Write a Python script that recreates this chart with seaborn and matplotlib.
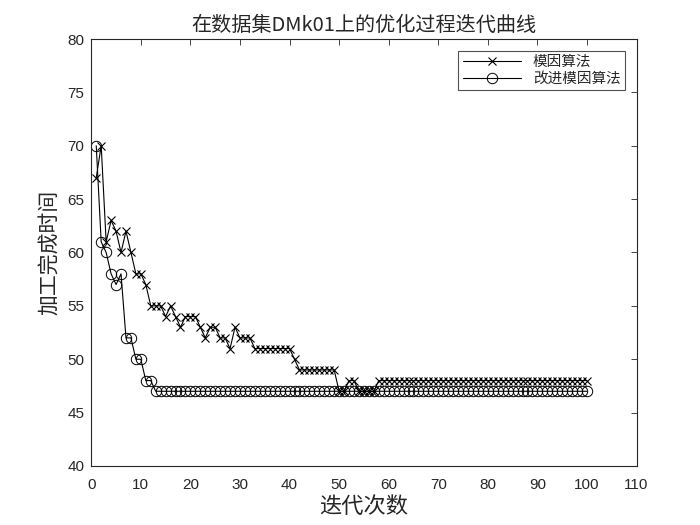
import matplotlib
matplotlib.use('Agg')
import matplotlib.pyplot as plt
import seaborn as sns
import numpy as np
import pandas as pd

# iteration index
iters = list(range(1, 101))

# memetic algorithm (x markers)
ma = [67, 70, 61, 63, 62, 60, 62, 60, 58, 58,
      57, 55, 55, 55, 54, 55, 54, 53, 54, 54,
      54, 53, 52, 53, 53, 52, 52, 51, 53, 52,
      52, 52, 51, 51, 51, 51, 51, 51, 51, 51,
      50, 49, 49, 49, 49, 49, 49, 49, 49, 47,
      47, 48, 48, 47, 47, 47, 47] + [48] * 43

# improved memetic algorithm (open circles)
ima = [70, 61, 60, 58, 57, 58, 52, 52, 50, 50,
       48, 48] + [47] * 88

labels = ['模因算法', '改进模因算法']

df = pd.DataFrame({'iter': iters, 'ma': ma, 'ima': ima})

sns.set_style('white')
plt.rcParams['font.family'] = ['Liberation Sans', 'Noto Sans CJK SC', 'DejaVu Sans']

fig = plt.figure(figsize=(7, 5.25), dpi=100)
ax = fig.add_axes([0.1304, 0.1124, 0.7789, 0.8133])

sns.lineplot(data=df, x='iter', y='ma', ax=ax, color='k', linewidth=0.8,
             marker='x', markersize=6, markeredgecolor='k', markeredgewidth=0.8,
             label=labels[0])
sns.lineplot(data=df, x='iter', y='ima', ax=ax, color='k', linewidth=0.8,
             marker='o', markersize=7.5, markerfacecolor='none',
             markeredgecolor='k', markeredgewidth=0.7, label=labels[1])

ax.set_xlim(0, 110)
ax.set_ylim(40, 80)
ax.set_xticks(np.arange(0, 111, 10))
ax.set_yticks(np.arange(40, 81, 5))
ax.tick_params(direction='in', top=True, right=True, length=4.5, width=0.6,
               labelsize=11, colors='#262626')
ax.tick_params(axis='x', pad=9)
ax.tick_params(axis='y', pad=5)
for s in ax.spines.values():
    s.set_linewidth(0.8)
    s.set_color('#262626')

ax.set_title('在数据集DMk01上的优化过程迭代曲线', fontsize=14.5, pad=6,
             family=['Noto Sans CJK SC', 'DejaVu Sans'])
ax.set_xlabel('迭代次数', fontsize=16, labelpad=3)
ax.set_ylabel('加工完成时间', fontsize=15, labelpad=6)

leg = ax.legend(loc='upper right', fontsize=10.5, handlelength=4, numpoints=1,
                frameon=True, fancybox=False, edgecolor='#262626',
                borderaxespad=0.8, borderpad=0.3, labelspacing=0.2)
leg.get_frame().set_linewidth(0.8)

fig.savefig('out.png', dpi=100)
